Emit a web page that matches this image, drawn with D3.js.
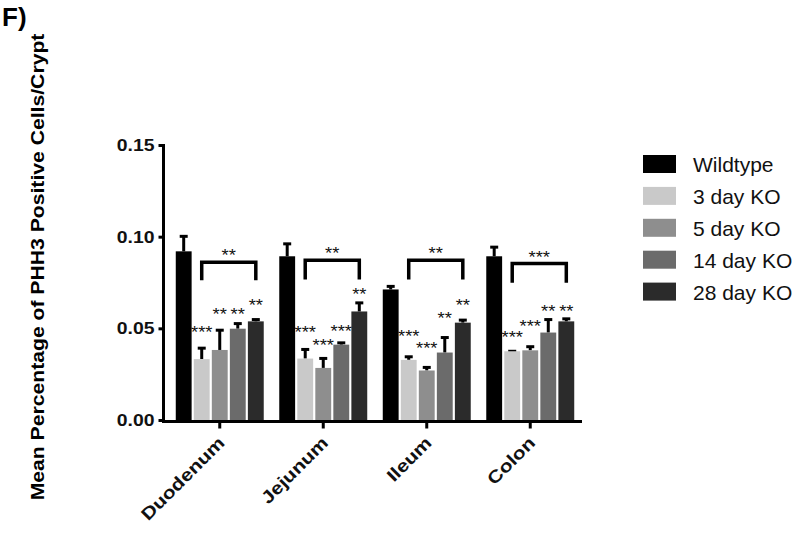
<!DOCTYPE html>
<html>
<head>
<meta charset="utf-8">
<script src="https://cdn.jsdelivr.net/npm/d3@7/dist/d3.min.js"></script>
<style>
  html, body { margin: 0; padding: 0; background: #fff; }
  svg { display: block; }
  text { font-family: Arial, "Liberation Sans", sans-serif; }
</style>
</head>
<body>
<div id="chart"></div>
<script>
// ---------------- data ----------------
const categories = ["Duodenum", "Jejunum", "Ileum", "Colon"];
const seriesNames = ["Wildtype", "3 day KO", "5 day KO", "14 day KO", "28 day KO"];
const seriesColors = ["#000000", "#c9c9c9", "#8e8e8e", "#6b6b6b", "#2b2b2b"];

const wildtype = [0.0920, 0.0893, 0.0712, 0.0893];
const ko3 = [0.0332, 0.0335, 0.0328, 0.0375];
const ko5 = [0.0382, 0.0284, 0.0270, 0.0380];
const ko14 = [0.0498, 0.0411, 0.0368, 0.0477];
const ko28 = [0.0538, 0.0592, 0.0531, 0.0538];

const wildtypeErr = [0.0090, 0.0076, 0.0025, 0.0058];
const ko3Err = [0.0068, 0.0058, 0.0025, 0.0008];
const ko5Err = [0.0116, 0.0060, 0.0025, 0.0028];
const ko14Err = [0.0036, 0.0018, 0.0090, 0.0079];
const ko28Err = [0.0018, 0.0055, 0.0022, 0.0022];

// significance vs wildtype (per KO bar)
const ko3Sig = ["***", "***", "***", "***"];
const ko5Sig = ["**", "***", "***", "***"];
const ko14Sig = ["**", "***", "**", "**"];
const ko28Sig = ["**", "**", "**", "**"];
// height (data units) at which each significance label sits
const ko3SigAt = [0.0495, 0.0495, 0.0477, 0.0467];
const ko5SigAt = [0.0594, 0.0426, 0.0409, 0.0531];
const ko14SigAt = [0.0594, 0.0502, 0.0571, 0.0610];
const ko28SigAt = [0.0641, 0.0703, 0.0643, 0.0610];

// brackets 3 day KO -> 28 day KO
const bracketSig = ["**", "**", "**", "***"];
const bracketTop = [0.0860, 0.0871, 0.0871, 0.0853];
const bracketBottom = [0.0762, 0.0766, 0.0766, 0.0748];

const yTicks = [0, 0.05, 0.10, 0.15];
const yTitle = "Mean Percentage of PHH3 Positive Cells/Crypt";
const panelLabel = "F)";

const means = [wildtype, ko3, ko5, ko14, ko28];
const errs = [wildtypeErr, ko3Err, ko5Err, ko14Err, ko28Err];
const sigs = [null, ko3Sig, ko5Sig, ko14Sig, ko28Sig];
const sigAt = [null, ko3SigAt, ko5SigAt, ko14SigAt, ko28SigAt];

// ---------------- layout ----------------
const W = 800, H = 536;
const svg = d3.select("#chart").append("svg").attr("width", W).attr("height", H);

const y = d3.scaleLinear().domain([0, 0.15]).range([420, 145]);
const x0 = d3.scaleBand().domain(categories).range([168, 582]).paddingInner(0.15).paddingOuter(0.075);
const x1 = d3.scaleBand().domain(seriesNames).range([0, x0.bandwidth()]).paddingInner(0.12);

function stext(g, str, x, yy, opts) {
  const a = opts.angle || 0, sx = opts.sx || 1;
  return g.append("text")
    .attr("transform", `translate(${x},${yy}) rotate(${a}) scale(${sx},1)`)
    .attr("text-anchor", opts.anchor || "start")
    .attr("font-size", opts.size)
    .attr("font-weight", opts.weight || "normal")
    .attr("fill", opts.fill || "#000")
    .text(str);
}

// panel label
stext(svg, panelLabel, 2, 26, {size: 26, weight: "bold"});

// y title
stext(svg, yTitle, 44, 267, {size: 17.5, weight: "bold", angle: -90, sx: 1.21, anchor: "middle"});

// bars
const flat = [];
categories.forEach((c, ci) => {
  seriesNames.forEach((s, si) => {
    flat.push({c, ci, s, si, v: means[si][ci], e: errs[si][ci]});
  });
});
const bx = d => x0(d.c) + x1(d.s);

// error bars (upper only)
const eg = svg.append("g");
eg.selectAll("line.err").data(flat).join("line")
  .attr("x1", d => bx(d) + x1.bandwidth() / 2)
  .attr("x2", d => bx(d) + x1.bandwidth() / 2)
  .attr("y1", d => y(d.v))
  .attr("y2", d => y(d.v + d.e) + 1.5)
  .attr("stroke", "#000").attr("stroke-width", 3);
eg.selectAll("line.cap").data(flat).join("line")
  .attr("x1", d => bx(d) + x1.bandwidth() / 2 - 4)
  .attr("x2", d => bx(d) + x1.bandwidth() / 2 + 4)
  .attr("y1", d => y(d.v + d.e) + 1.5)
  .attr("y2", d => y(d.v + d.e) + 1.5)
  .attr("stroke", "#000").attr("stroke-width", 3);

svg.append("g").selectAll("rect").data(flat).join("rect")
  .attr("x", bx)
  .attr("y", d => y(d.v))
  .attr("width", x1.bandwidth())
  .attr("height", d => y(0) - y(d.v))
  .attr("fill", d => seriesColors[d.si]);

// significance labels
const sg = svg.append("g");
flat.filter(d => d.si > 0).forEach(d => {
  stext(sg, sigs[d.si][d.ci], bx(d) + x1.bandwidth() / 2, y(sigAt[d.si][d.ci]) + 9,
    {size: 16, sx: 1.15, anchor: "middle", fill: "#111"});
});

// brackets
const bg = svg.append("g");
categories.forEach((c, ci) => {
  const xa = x0(c) + x1(seriesNames[1]) + x1.bandwidth() / 2;
  const xb = x0(c) + x1(seriesNames[4]) + x1.bandwidth() / 2;
  const yt = y(bracketTop[ci]), yb = y(bracketBottom[ci]);
  bg.append("path")
    .attr("d", `M${xa},${yb}V${yt}H${xb}V${yb}`)
    .attr("fill", "none").attr("stroke", "#000").attr("stroke-width", 3.5)
    .attr("stroke-linejoin", "miter");
  stext(bg, bracketSig[ci], (xa + xb) / 2, yt - 1, {size: 16, sx: 1.15, anchor: "middle", fill: "#111"});
});

// y axis
const yAxis = d3.axisLeft(y).tickValues(yTicks).tickFormat(d3.format(".2f")).tickSize(5).tickSizeOuter(0).tickPadding(5);
const yg = svg.append("g").attr("transform", "translate(163.5,0)").call(yAxis);
yg.select(".domain").remove();
yg.append("line").attr("x1", 0).attr("x2", 0).attr("y1", 144).attr("y2", 423)
  .attr("stroke", "#000").attr("stroke-width", 3);
yg.selectAll(".tick line").attr("stroke", "#000").attr("stroke-width", 3);
yg.selectAll(".tick text").remove();
yTicks.forEach(t => {
  stext(svg, d3.format(".2f")(t), 154.5, y(t) + 6, {size: 16.3, weight: "bold", sx: 1.19, anchor: "end", fill: "#111"});
});

// x axis
svg.append("line").attr("x1", 162).attr("x2", 582).attr("y1", 421.5).attr("y2", 421.5)
  .attr("stroke", "#000").attr("stroke-width", 3);
const xAxis = d3.axisBottom(x0).tickSize(7).tickSizeOuter(0).tickFormat("");
const xg = svg.append("g").attr("transform", "translate(0,421.5)").call(xAxis);
xg.select(".domain").remove();
xg.selectAll(".tick line").attr("stroke", "#000").attr("stroke-width", 3);
categories.forEach(c => {
  const cx = x0(c) + x0.bandwidth() / 2;
  stext(svg, c, cx + 6, 444, {size: 17.5, weight: "bold", sx: 1.2, angle: -45, anchor: "end", fill: "#111"});
});

// legend
const lg = svg.append("g");
seriesNames.forEach((s, i) => {
  const ty = 155 + i * 31.9;
  lg.append("rect").attr("x", 643).attr("y", ty).attr("width", 33).attr("height", 18)
    .attr("fill", seriesColors[i]);
  stext(lg, s, 693, ty + 17, {size: 21, fill: "#111"});
});
</script>
</body>
</html>
